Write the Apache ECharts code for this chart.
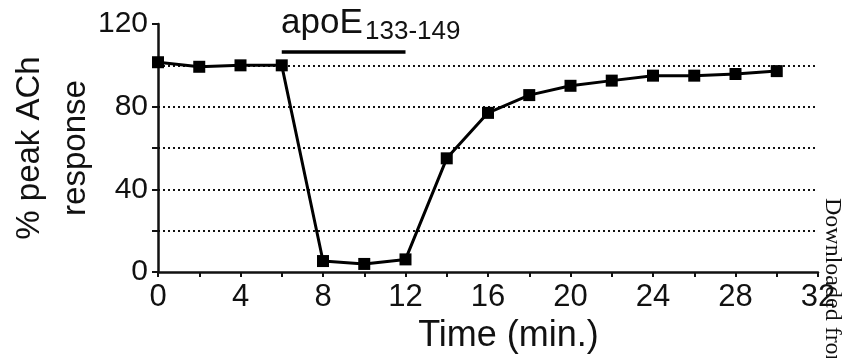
<!DOCTYPE html>
<html>
<head>
<meta charset="utf-8">
<script src="https://cdn.jsdelivr.net/npm/echarts@6/dist/echarts.min.js"></script>
<style>
  html, body { margin: 0; padding: 0; background: #fff; }
  #chart { width: 847px; height: 358px; }
</style>
</head>
<body>
<div id="chart"></div>
<script>
  // minutes and % peak ACh response
  var times = [0, 2, 4, 6, 8, 10, 12, 14, 16, 18, 20, 22, 24, 26, 28, 30];
  var response = [101.5, 99.3, 100, 100, 5.3, 3.9, 6.1, 55, 77, 85.6, 90.1, 92.6, 95, 95, 95.8, 97.2];
  // application period of the peptide
  var drugStart = 6, drugEnd = 12, drugLevel = 106.5;

  var font = 'Liberation Sans, Arial, Helvetica, sans-serif';

  var chart = echarts.init(document.getElementById('chart'));
  chart.setOption({
    animation: false,
    grid: { left: 158, right: 29, top: 24, bottom: 86, containLabel: false, outerBoundsMode: 'none' },
    xAxis: {
      type: 'value',
      min: 0, max: 32, interval: 2,
      name: 'Time (min.)',
      nameLocation: 'middle',
      nameGap: 46,
      nameMoveOverlap: false,
      nameTextStyle: { fontFamily: font, fontSize: 36, color: '#111', padding: [0, 0, 0, 41] },
      axisLine: { lineStyle: { color: '#111', width: 2.5 } },
      axisTick: { length: 5, lineStyle: { color: '#111', width: 2 } },
      axisLabel: {
        fontFamily: font, fontSize: 31, color: '#111', margin: 10,
        formatter: function (v) { return v % 4 === 0 ? String(v) : ''; }
      },
      splitLine: { show: false }
    },
    yAxis: {
      type: 'value',
      min: 0, max: 120, interval: 20,
      name: '% peak ACh\nresponse',
      nameLocation: 'middle',
      nameRotate: 90,
      nameGap: 59,
      nameMoveOverlap: false,
      nameTextStyle: { fontFamily: font, fontSize: 33, color: '#111', lineHeight: 46 },
      axisLine: { show: true, lineStyle: { color: '#111', width: 2.5 } },
      axisTick: { show: true, length: 6, lineStyle: { color: '#111', width: 2 } },
      axisLabel: {
        fontFamily: font, fontSize: 30, color: '#111', margin: 10,
        formatter: function (v) { return v % 40 === 0 ? String(v) : ''; }
      },
      splitLine: {
        show: true, showMinLine: false, showMaxLine: false,
        lineStyle: { color: '#111', width: 2, type: [2, 3] }
      }
    },
    series: [
      {
        type: 'line',
        data: times.map(function (t, i) { return [t, response[i]]; }),
        symbol: 'rect',
        symbolSize: 12,
        itemStyle: { color: '#000' },
        lineStyle: { color: '#000', width: 3 },
        z: 5
      },
      {
        type: 'line',
        data: [[drugStart, drugLevel], [drugEnd, drugLevel]],
        symbol: 'none',
        lineStyle: { color: '#000', width: 3.5 },
        clip: false
      }
    ],
    graphic: [
      {
        type: 'text', x: 281, y: 6,
        style: { text: 'apoE', fontFamily: font, fontSize: 35, fill: '#111', verticalAlign: 'top' }
      },
      {
        type: 'text', x: 365, y: 19,
        style: { text: '133-149', fontFamily: font, fontSize: 26, fill: '#111', verticalAlign: 'top' }
      },
      {
        type: 'text', x: 844, y: 198, rotation: -Math.PI / 2,
        style: { text: 'Downloaded from', fontFamily: 'Liberation Serif, Times New Roman, serif', fontSize: 24, fill: '#111' }
      }
    ]
  });
</script>
</body>
</html>
